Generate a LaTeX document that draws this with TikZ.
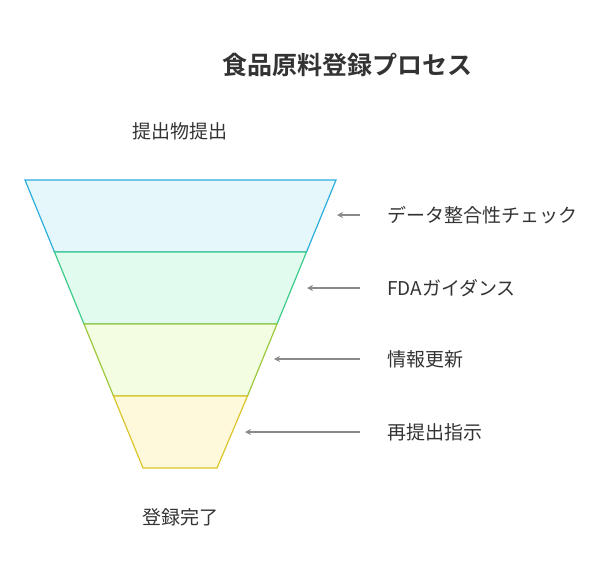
\documentclass[tikz,border=0pt]{standalone}
\usepackage{fontspec}
\setmainfont{Noto Sans CJK JP}
\newfontfamily\jpb[BoldFont={Noto Sans CJK JP Bold}]{Noto Sans CJK JP}
\usetikzlibrary{arrows.meta}
\definecolor{c1f}{HTML}{E6F7FC}\definecolor{c1s}{HTML}{2AAEDC}
\definecolor{c2f}{HTML}{E1FBEF}\definecolor{c2s}{HTML}{3DCB8A}
\definecolor{c3f}{HTML}{F3FDE1}\definecolor{c3s}{HTML}{9CC83C}
\definecolor{c4f}{HTML}{FFF9DB}\definecolor{c4s}{HTML}{DCC52A}
\definecolor{txt}{HTML}{333333}\definecolor{arr}{HTML}{8A8A8A}
\begin{document}
\begin{tikzpicture}[x=1pt,y=-1pt,
  lbl/.style={anchor=west,text=txt,font=\fontsize{19}{22}\selectfont,inner sep=0},
  ar/.style={draw=arr,line width=1.2pt,-{Stealth[length=6pt,width=6pt]}},
  band/.style={line width=1.2pt}]
\useasboundingbox (0,0) rectangle (612,576);
\filldraw[band,fill=c1f,draw=c1s] (25,180)--(336,180)--(306.5,252)--(54.5,252)--cycle;
\filldraw[band,fill=c2f,draw=c2s] (54.5,252)--(306.5,252)--(277,324)--(84,324)--cycle;
\filldraw[band,fill=c3f,draw=c3s] (84,324)--(277,324)--(247.5,396)--(113.5,396)--cycle;
\filldraw[band,fill=c4f,draw=c4s] (113.5,396)--(247.5,396)--(217,468)--(143,468)--cycle;
\node[font=\jpb\bfseries\fontsize{25}{28}\selectfont,text=txt] (title) at (347,65) {食品原料登録プロセス};
\node[text=txt,font=\fontsize{19}{22}\selectfont] (top) at (180,131) {提出物提出};
\node[text=txt,font=\fontsize{19}{22}\selectfont] (bot) at (180,517) {登録完了};
\node[lbl] (l1) at (387,215) {データ整合性チェック};
\node[lbl] (l2) at (387,288) {FDAガイダンス};
\node[lbl] (l3) at (387,359) {情報更新};
\node[lbl] (l4) at (387,432) {再提出指示};
\coordinate (s1) at (360,215);\coordinate (e1) at (337,215);
\coordinate (s2) at (360,288);\coordinate (e2) at (307,288);
\coordinate (s3) at (360,359);\coordinate (e3) at (274,359);
\coordinate (s4) at (360,432);\coordinate (e4) at (245,432);
\draw[ar] (s1)--(e1);\draw[ar] (s2)--(e2);\draw[ar] (s3)--(e3);\draw[ar] (s4)--(e4);
\end{tikzpicture}
\end{document}
